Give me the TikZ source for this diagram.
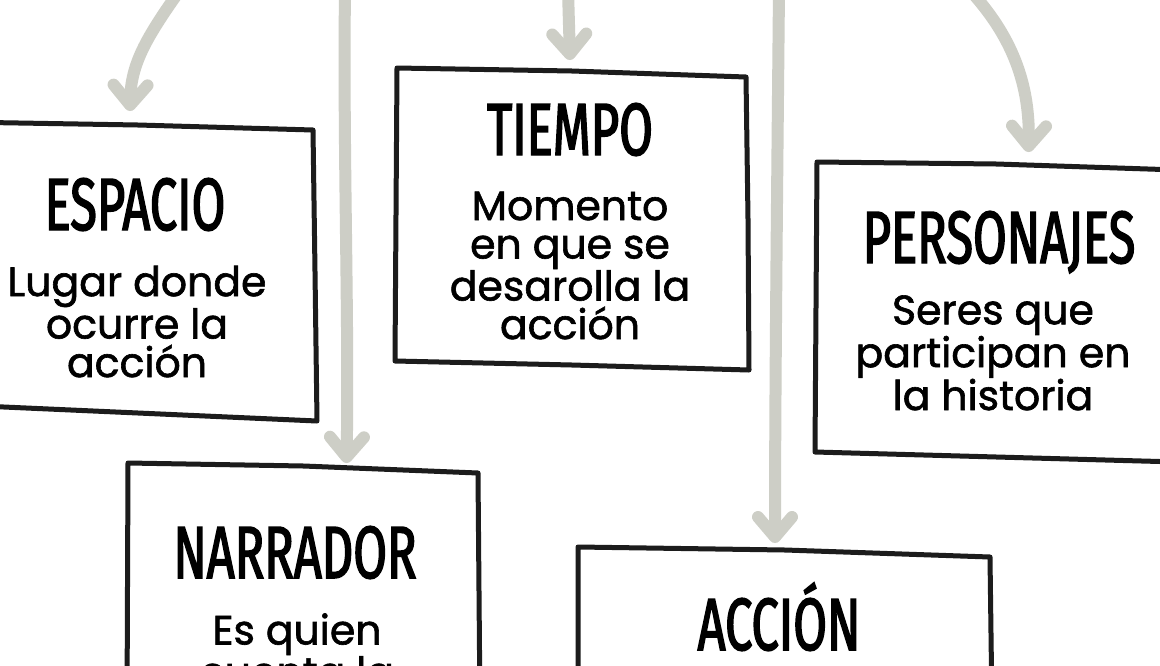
\documentclass[tikz,border=0pt]{standalone}
\usepackage{fontspec}
\setmainfont{Poppins}[FakeBold=1.5]
\newfontfamily\titlefont{Fira Sans}[FakeStretch=0.66,FakeBold=2]
\usetikzlibrary{arrows.meta,calc}
\definecolor{arrowgray}{HTML}{CDCEC6}
\definecolor{inkblack}{HTML}{1C1C1C}
\tikzset{
  boxarea/.style={draw=none,inner sep=0pt,outer sep=0pt},
  boxline/.style={draw=inkblack,line width=5pt,line join=round,line cap=round},
  titletext/.style={inner sep=0pt,text depth=0pt,font=\titlefont\fontsize{74}{80}\selectfont,text=black},
  bodytext/.style={inner sep=0pt,align=center,font=\fontsize{41}{38.5}\selectfont,text=black},
  grayarrow/.style={draw=arrowgray,line width=12pt,line cap=round,line join=round,
    -{Straight Barb[length=20pt,width=34pt,round]}}
}
\begin{document}
\begin{tikzpicture}[x=1pt,y=-1pt]
\useasboundingbox (0,0) rectangle (1160,665);
\clip (0,0) rectangle (1160,665);
\fill[white] (0,0) rectangle (1160,665);

% box areas
\node[boxarea,minimum width=358pt,minimum height=299pt] (esp) at (138,271.5) {};
\node[boxarea,minimum width=354pt,minimum height=302pt] (tie) at (572,219) {};
\node[boxarea,minimum width=363pt,minimum height=300pt] (per) at (996.5,312) {};
\node[boxarea,minimum width=353pt,minimum height=247pt] (nar) at (303.5,586.5) {};
\node[boxarea,minimum width=414pt,minimum height=163pt] (acc) at (785,628.5) {};

% outlines
\draw[boxline] (esp.north west) -- ($(esp.north)+(0,3)$) -- ($(esp.north east)+(-4,8)$)
  -- ($(esp.east)+(-2,0)$) -- (esp.south east) -- ($(esp.south)+(0,-8)$) -- ($(esp.south west)+(0,-16)$) -- cycle;
\draw[boxline] ($(tie.north west)+(2,0)$) -- ($(tie.north)+(0,3)$) -- ($(tie.north east)+(-3,9)$)
  -- ($(tie.east)+(-1,0)$) -- (tie.south east) -- ($(tie.south)+(0,-5)$) -- ($(tie.south west)+(0,-9)$) -- cycle;
\draw[boxline] ($(per.north west)+(2,0)$) -- ($(per.north)+(0,2)$) -- ($(per.north east)+(0,8)$)
  -- (per.south east) -- ($(per.south)+(0,-5)$) -- ($(per.south west)+(0,-10)$) -- cycle;
\draw[boxline] ($(nar.north west)+(1,0)$) -- ($(nar.north)+(0,3)$) -- ($(nar.north east)+(-2,10)$)
  -- (nar.south east) -- (nar.south west) -- cycle;
\draw[boxline] (acc.north west) -- ($(acc.north)+(0,3)$) -- ($(acc.north east)+(-2,10)$)
  -- (acc.south east) -- (acc.south west) -- cycle;

% titles
\node[titletext,anchor=base] (esp-t) at (135,230) {ESPACIO};
\node[titletext,anchor=base] (tie-t) at (570,155) {TIEMPO};
\node[titletext,anchor=base] (per-t) at (999,263) {PERSONAJES};
\node[titletext,anchor=base] (nar-t) at (295,578) {NARRADOR};
\node[titletext,anchor=base] (acc-t) at (779,650) {ACCIÓN};

% bodies (anchor base = baseline of last line)
\node[bodytext,anchor=base] (esp-b) at (137,377) {Lugar donde\\ocurre la\\acción};
\node[bodytext,anchor=base] (tie-b) at (570,339) {Momento\\en que se\\desarolla la\\acción};
\node[bodytext,anchor=base] (per-b) at (993,410) {Seres que\\participan en\\la historia};
\node[bodytext,anchor=base] (nar-b) at (297,686.5) {Es quien\\cuenta la};

% arrow sources
\coordinate (a1s) at (180,-10);
\coordinate (a2s) at (345,-10);
\coordinate (a3s) at (568,-10);
\coordinate (a4s) at (779,-10);
\coordinate (a5s) at (965,-15);

\draw[grayarrow] (a1s) .. controls (146,38) and (131,64) .. ($(esp.north)+(-8,-11)$);
\draw[grayarrow] (a2s) .. controls (343,150) and (349,320) .. ($(nar.north)+(43,0)$);
\draw[grayarrow] (a3s) -- ($(tie.north)+(-2,-8)$);
\draw[grayarrow] (a4s) .. controls (777,200) and (775,400) .. ($(acc.north)+(-10,-4)$);
\draw[grayarrow] (a5s) .. controls (1008,30) and (1030,78) .. ($(per.north)+(32,-10)$);
\end{tikzpicture}
\end{document}
